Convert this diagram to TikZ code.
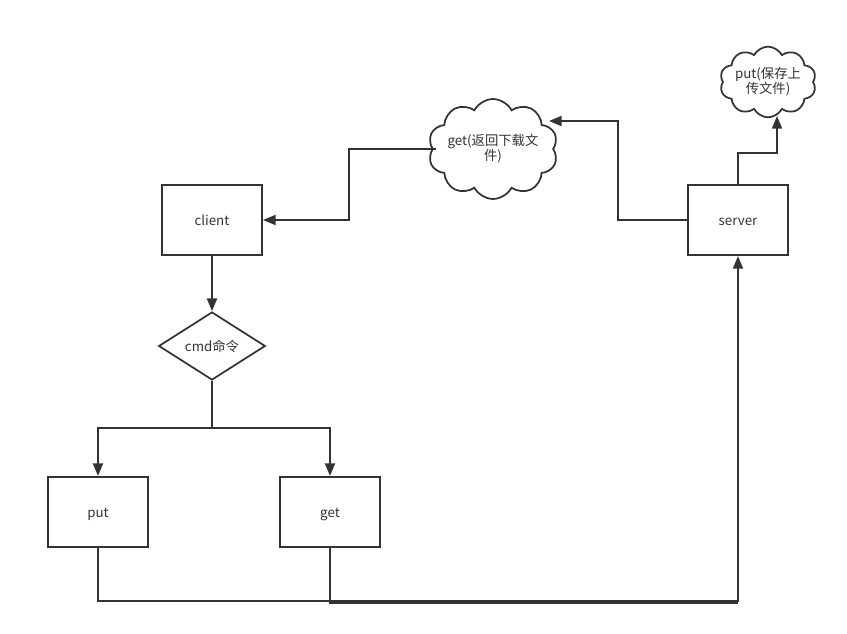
\documentclass[tikz,border=0pt]{standalone}
\usepackage{fontspec}
\setmainfont{Noto Sans CJK SC}
\usetikzlibrary{shapes.geometric,shapes.symbols,arrows.meta}
\definecolor{ink}{HTML}{333333}
\begin{document}
\begin{tikzpicture}[x=0.75pt,y=-0.75pt,
  every node/.style={text=ink,font=\fontsize{10}{11.25}\selectfont},
  box/.style={draw=ink,line width=1.5pt,fill=white,inner sep=0pt,
    minimum width=75pt,minimum height=52.5pt,text height=8.6pt,text depth=1pt},
  decision/.style={draw=ink,line width=1.3pt,fill=white,diamond,inner sep=0pt,
    minimum width=80pt,minimum height=51pt,text height=8.6pt,text depth=1pt},
  puff/.style={draw=ink,line width=1.3pt,fill=white,cloud,cloud puffs=10,
    cloud puff arc=125,cloud ignores aspect,inner sep=0pt,align=center},
  wire/.style={draw=ink,line width=1.5pt},
  arr/.style={wire,-{Triangle[length=9.5pt,width=7.5pt]}}
]
\useasboundingbox (0,0) rectangle (847,634);

\node[box] (client) at (212,220) {client};
\node[decision] (cmd) at (212,346) {cmd命令};
\node[box] (put) at (98,512) {put};
\node[box] (get) at (330,512) {get};
\node[box] (server) at (738,220) {server};
\node[puff,minimum width=84pt,minimum height=75pt] (g1) at (493,149) {get(返回下载文\\件)};
\node[puff,minimum width=65pt,minimum height=53pt] (p1) at (768,82) {put(保存上\\传文件)};

\coordinate (split) at (212,428);
\coordinate (g1in) at (549,121);
\coordinate (g1out) at (436,149);
\coordinate (p1in) at (777,116);

\draw[arr] (client.south) -- (cmd.north);
\draw[wire] (cmd.south) -- (split);
\draw[arr] (split) -| (put.north);
\draw[arr] (split) -| (get.north);
\draw[arr] (server.west) -- (618,220) |- (g1in);
\draw[arr] (g1out) -- (349,149) |- (client.east);
\draw[arr] (server.north) -- (738,153) -| (p1in);
\draw[arr] (put.south) -- (98,601) -| (server.south);
\draw[wire] (get.south) |- (738,603);
\end{tikzpicture}
\end{document}
